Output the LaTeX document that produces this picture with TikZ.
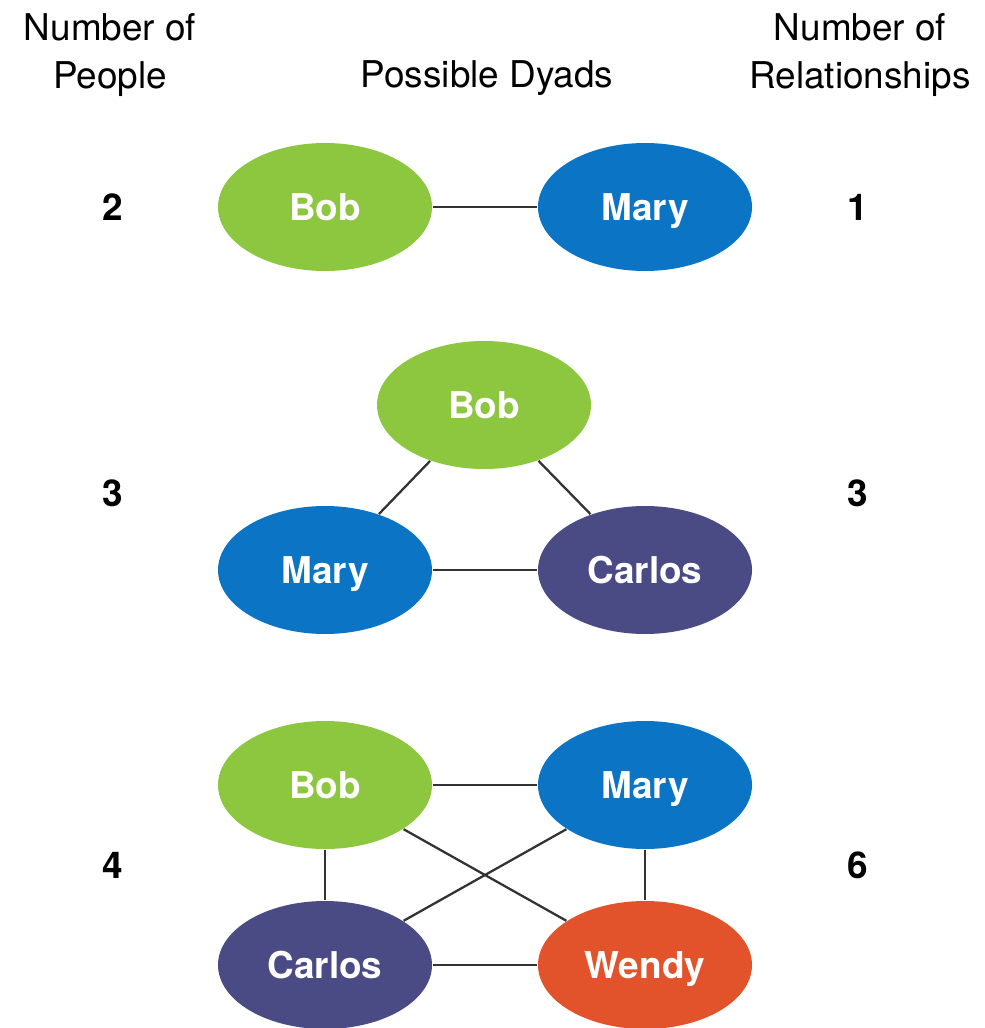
\documentclass[tikz,border=0pt]{standalone}
\usepackage{fontspec}
\setmainfont{TeX Gyre Heros}
\usetikzlibrary{shapes.geometric}
\definecolor{bobgreen}{HTML}{8DC63F}
\definecolor{maryblue}{HTML}{0B74C4}
\definecolor{carlospurple}{HTML}{4A4A85}
\definecolor{wendyred}{HTML}{E2532B}
\definecolor{linegray}{HTML}{333333}
\begin{document}
\begin{tikzpicture}[
  person/.style={shape=ellipse, draw=none, text=white, font=\fontsize{10.5}{12}\selectfont\bfseries,
    minimum width=2.14cm, minimum height=1.28cm, inner sep=0pt, text height=7.6pt, text depth=0pt},
  head/.style={align=center, font=\fontsize{10.5}{13.7}\selectfont},
  count/.style={font=\fontsize{10.5}{12}\selectfont\bfseries, text height=7.6pt, text depth=0pt},
  tie/.style={-, line width=0.65pt, draw=linegray}]
\useasboundingbox (0,0) rectangle (9.85,-10.28);
% column heads
\node[head] (hpeople) at (1.10,-0.55) {Number of\\People};
\node[head] (hdyads) at (4.87,-0.78) {Possible Dyads};
\node[head] (hrel) at (8.60,-0.55) {Number of\\Relationships};
% counts
\node[count] (p2) at (1.13,-2.07) {2};
\node[count] (r1) at (8.58,-2.07) {1};
\node[count] (p3) at (1.13,-4.93) {3};
\node[count] (r3) at (8.58,-4.93) {3};
\node[count] (p4) at (1.13,-8.65) {4};
\node[count] (r6) at (8.58,-8.65) {6};
% two people
\node[person, fill=bobgreen] (bobA) at (3.25,-2.07) {Bob};
\node[person, fill=maryblue] (maryA) at (6.45,-2.07) {Mary};
\path [tie] (bobA) edge (maryA);
% three people
\node[person, fill=bobgreen] (bobB) at (4.84,-4.05) {Bob};
\node[person, fill=maryblue] (maryB) at (3.25,-5.70) {Mary};
\node[person, fill=carlospurple] (carlosB) at (6.45,-5.70) {Carlos};
\path [tie] (bobB) edge (maryB);
\path [tie] (bobB) edge (carlosB);
\path [tie] (maryB) edge (carlosB);
% four people
\node[person, fill=bobgreen] (bobC) at (3.25,-7.85) {Bob};
\node[person, fill=maryblue] (maryC) at (6.45,-7.85) {Mary};
\node[person, fill=carlospurple] (carlosC) at (3.25,-9.65) {Carlos};
\node[person, fill=wendyred] (wendyC) at (6.45,-9.65) {Wendy};
\path [tie] (bobC) edge (maryC);
\path [tie] (bobC) edge (carlosC);
\path [tie] (bobC) edge (wendyC);
\path [tie] (maryC) edge (carlosC);
\path [tie] (maryC) edge (wendyC);
\path [tie] (carlosC) edge (wendyC);
\end{tikzpicture}
\end{document}
